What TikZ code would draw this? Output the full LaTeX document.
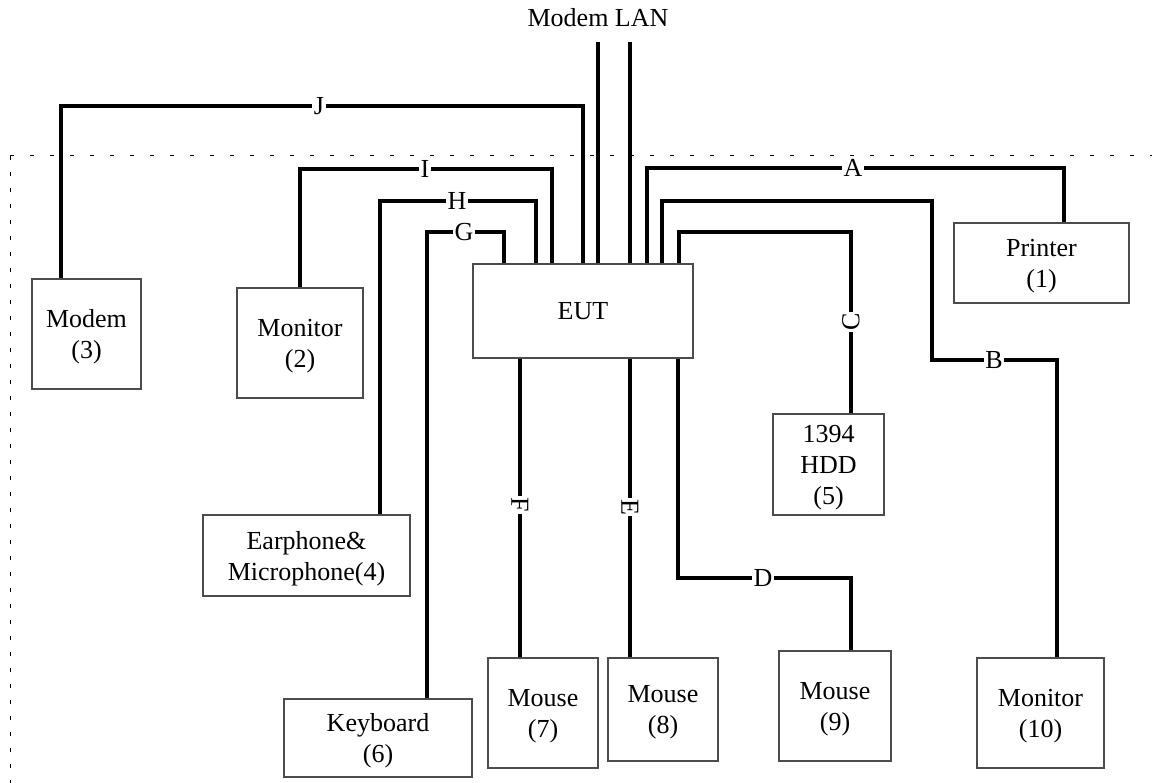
\documentclass[tikz,border=0pt]{standalone}
\usepackage{fontspec}
\setmainfont{Liberation Serif}
\begin{document}
\begin{tikzpicture}[x=1pt,y=-1pt,
  every node/.style={font=\fontsize{26}{31}\selectfont},
  dev/.style={draw=black!70,line width=1.2pt,fill=white,inner sep=0pt,align=center,text depth=0pt},
  cable/.style={line width=3.8pt,line join=miter},
  lbl/.style={fill=white,inner sep=1.5pt},
  frame/.style={line width=1pt}]
\useasboundingbox (0,0) rectangle (1152,783);
% test-site boundary
\draw[frame,dash pattern=on 4pt off 16pt] (10,156) -- (1152,156);
\draw[frame,dash pattern=on 4pt off 12pt] (10,156) -- (10,783);
% devices
\node[dev,minimum width=220pt,minimum height=94pt] (eut) at (583,311) {EUT};
\node[dev,minimum width=175pt,minimum height=80pt] (printer) at (1041.5,263) {Printer\\(1)};
\node[dev,minimum width=109pt,minimum height=110pt] (modem3) at (86.5,334) {Modem\\(3)};
\node[dev,minimum width=126pt,minimum height=110pt] (monitor2) at (300,343) {Monitor\\(2)};
\node[dev,minimum width=111pt,minimum height=101pt] (hdd) at (828.5,464.5) {1394\\HDD\\(5)};
\node[dev,minimum width=207pt,minimum height=81pt] (earph) at (306.5,555.5) {Earphone\&\\Microphone(4)};
\node[dev,minimum width=188pt,minimum height=78pt] (keyb) at (378,738) {Keyboard\\(6)};
\node[dev,minimum width=110pt,minimum height=110pt] (mouse7) at (543,713) {Mouse\\(7)};
\node[dev,minimum width=110pt,minimum height=103pt] (mouse8) at (663,709.5) {Mouse\\(8)};
\node[dev,minimum width=112pt,minimum height=110pt] (mouse9) at (835,706) {Mouse\\(9)};
\node[dev,minimum width=127pt,minimum height=110pt] (monitor10) at (1040.5,713) {Monitor\\(10)};
\node (ml) at (598,18) {Modem LAN};
\coordinate (mtop) at (598,42);
\coordinate (ltop) at (630,42);
% cables
\draw[cable] (eut.north -| mtop) -- (mtop);
\draw[cable] (eut.north -| ltop) -- (ltop);
\draw[cable] (eut.north -| 647,0) |- (1064,168) -- (printer.north -| 1064,0);
\draw[cable] (eut.north -| 662,0) |- (932,201) |- (1057,360) -- (monitor10.north -| 1057,0);
\draw[cable] (eut.north -| 679,0) |- (851,232) -- (hdd.north -| 851,0);
\draw[cable] (eut.south -| 678,0) |- (851,578) -- (mouse9.north -| 851,0);
\draw[cable] (eut.south -| 630,0) -- (mouse8.north -| 630,0);
\draw[cable] (eut.south -| 520,0) -- (mouse7.north -| 520,0);
\draw[cable] (eut.north -| 504,0) |- (427,232) -- (keyb.north -| 427,0);
\draw[cable] (eut.north -| 536,0) |- (380,201) -- (earph.north -| 380,0);
\draw[cable] (eut.north -| 552,0) |- (300,169) -- (monitor2.north);
\draw[cable] (eut.north -| 583,0) |- (61,106) -- (modem3.north -| 61,0);
% cable labels
\node[lbl] (lA) at (853,168) {A};
\node[lbl] (lB) at (994,360) {B};
\node[lbl,rotate=90] (lC) at (851,322) {C};
\node[lbl] (lD) at (763,578) {D};
\node[lbl,rotate=-90] (lE) at (630,507) {E};
\node[lbl,rotate=-90] (lF) at (520,505) {F};
\node[lbl] (lG) at (464,232) {G};
\node[lbl] (lH) at (457,201) {H};
\node[lbl] (lI) at (425,169) {I};
\node[lbl] (lJ) at (319,106) {J};
\end{tikzpicture}
\end{document}
